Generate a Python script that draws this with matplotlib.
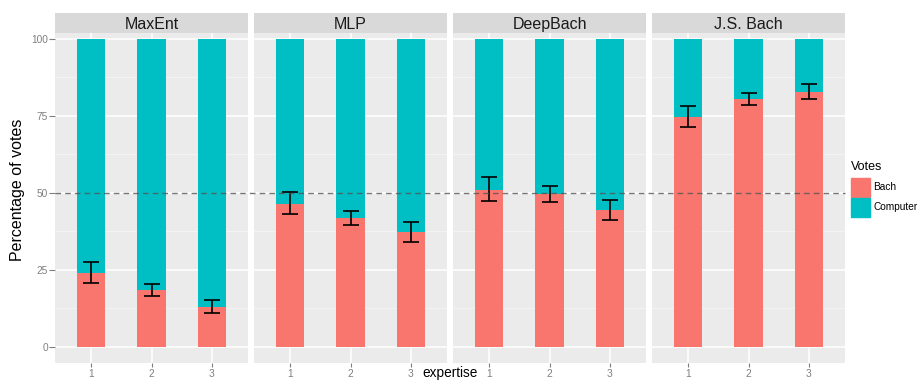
import matplotlib
matplotlib.use("Agg")
import matplotlib.pyplot as plt
from matplotlib.patches import Rectangle
from matplotlib.lines import Line2D
import numpy as np

plt.rcParams['font.family'] = ['Liberation Sans', 'DejaVu Sans']

models = ["MaxEnt", "MLP", "DeepBach", "J.S. Bach"]
expertise = [1, 2, 3]
bach_pct = {
    "MaxEnt":    [24.0, 18.5, 12.9],
    "MLP":       [46.3, 41.8, 37.3],
    "DeepBach":  [50.9, 49.6, 44.4],
    "J.S. Bach": [74.5, 80.3, 82.7],
}
err_low = {
    "MaxEnt":    [20.6, 16.6, 10.9],
    "MLP":       [43.1, 39.5, 34.0],
    "DeepBach":  [47.3, 47.0, 41.2],
    "J.S. Bach": [71.3, 78.6, 80.3],
}
err_high = {
    "MaxEnt":    [27.6, 20.4, 15.3],
    "MLP":       [50.2, 44.0, 40.5],
    "DeepBach":  [55.1, 52.2, 47.7],
    "J.S. Bach": [78.2, 82.5, 85.2],
}
yticks = [0, 25, 50, 75, 100]
legend_labels = ["Bach", "Computer"]
col_bach = "#F8766D"
col_comp = "#00BFC4"

W, H = 918, 381
fig = plt.figure(figsize=(W / 100, H / 100), dpi=100)

def fx(px):
    return px / W

def fy(py):
    return 1 - py / H

panel_left = [55, 254, 453, 652]
pw = 193
p_top, p_bot = 33.3, 363
s_top = 13
ylim = (-5.2, 101.7)
tick_col = "#7F7F7F"
bg = "#EBEBEB"

axes = []
for i, m in enumerate(models):
    x0 = panel_left[i]
    ax = fig.add_axes([fx(x0), fy(p_bot), pw / W, (p_bot - p_top) / H])
    ax.set_facecolor(bg)
    ax.set_xlim(0.4, 3.6)
    ax.set_ylim(*ylim)
    for s in ax.spines.values():
        s.set_visible(False)
    # grid
    for yv in [12.5, 37.5, 62.5, 87.5]:
        ax.axhline(yv, color="#F5F5F5", lw=0.6, zorder=0.5)
    for yv in yticks:
        ax.axhline(yv, color="white", lw=1.1, zorder=0.6)
    for xv in expertise:
        ax.axvline(xv, color="white", lw=1.1, zorder=0.6)
    b = np.array(bach_pct[m])
    ax.bar(expertise, b, width=0.47, color=col_bach, zorder=2)
    ax.bar(expertise, 100 - b, bottom=b, width=0.47, color=col_comp, zorder=2)
    lo = np.array(err_low[m]); hi = np.array(err_high[m])
    ax.errorbar(expertise, (lo + hi) / 2, yerr=(hi - lo) / 2, fmt="none",
                ecolor="black", elinewidth=1.2, capsize=5.8, capthick=1.2, zorder=3)
    ax.set_xticks(expertise)
    ax.set_xticklabels([str(e) for e in expertise])
    ax.tick_params(axis="x", colors=tick_col, labelsize=7.3, length=3, width=0.8, pad=1.5,
                   labelcolor=tick_col)
    if i == 0:
        ax.set_yticks(yticks)
        ax.set_yticklabels([str(v) for v in yticks])
        ax.tick_params(axis="y", colors=tick_col, labelsize=7.3, length=4, width=0.8, pad=1,
                       labelcolor=tick_col)
    else:
        ax.set_yticks([])
    # strip
    sax = fig.add_axes([fx(x0), fy(p_top), pw / W, (p_top - s_top) / H])
    sax.set_facecolor("#D9D9D9")
    sax.set_xticks([]); sax.set_yticks([])
    for s in sax.spines.values():
        s.set_visible(False)
    sax.text(0.5, 0.45, m, ha="center", va="center", fontsize=11.5, color="#1A1A1A",
             transform=sax.transAxes)
    axes.append(ax)

# dashed 50% reference line spanning across panels
y50 = axes[0].transData.transform((0, 50))[1]
y50f = fig.transFigure.inverted().transform((0, y50))[1]
fig.add_artist(Line2D([fx(55), fx(845)], [y50f, y50f], transform=fig.transFigure,
                      color="#555555", lw=1.0, ls=(0, (4, 3)), alpha=0.8, zorder=5))

# axis labels
fig.text(fx(18), fy(190), "Percentage of votes", rotation=90, ha="center", va="center",
         fontsize=11.5, color="black")
fig.text(fx(450), fy(377.5), "expertise", ha="center", va="baseline", fontsize=9.8, color="black")

# legend
fig.text(fx(850.5), fy(167), "Votes", ha="left", va="center", fontsize=9, color="black")
for j, (lab, c) in enumerate(zip(legend_labels, [col_bach, col_comp])):
    top = 178 + j * 20.2
    fig.add_artist(Rectangle((fx(850.7), fy(top + 18.6)), 19.3 / W, 18.6 / H,
                             transform=fig.transFigure, color=c))
    fig.text(fx(873.5), fy(top + 9.3), lab, ha="left", va="center", fontsize=7.3, color="black")

fig.savefig("out.png", dpi=100)
